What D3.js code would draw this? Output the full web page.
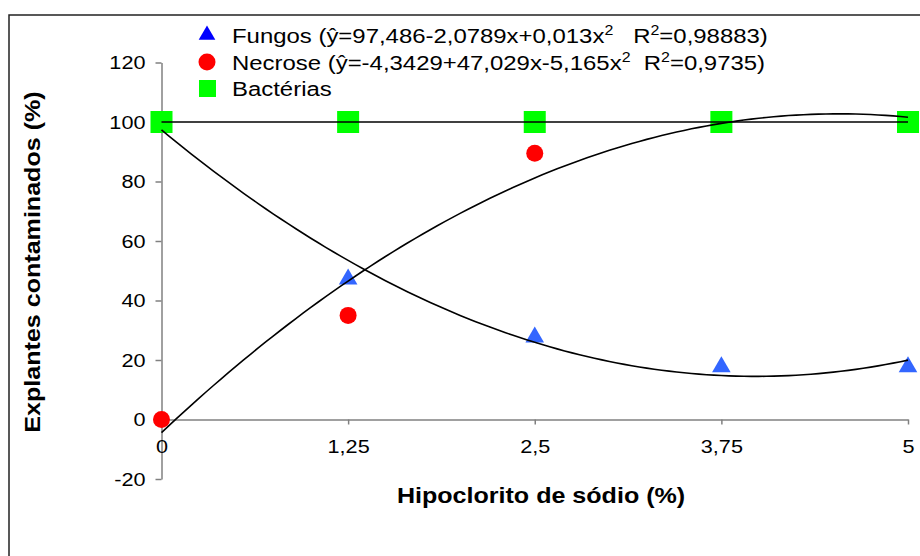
<!DOCTYPE html>
<html>
<head>
<meta charset="utf-8">
<style>
body { margin: 0; background: #fff; }
text { font-family: Arial, "Liberation Sans", sans-serif; fill: #000; }
.axis path, .axis line { stroke: #808080; stroke-width: 1.5px; }
.trend { fill: none; stroke: #000; stroke-width: 1.6px; }
</style>
</head>
<body>
<script src="https://cdn.jsdelivr.net/npm/d3@7"></script>
<script>

var doses = [0, 1.25, 2.5, 3.75, 5];
var xTicks = ["0", "1,25", "2,5", "3,75", "5"];
var fungos = [100, 47.5, 28, 18, 18];
var necrose = [0, 35, 89.5, 100, 100];
var bacterias = [100, 100, 100, 100, 100];
var yTicks = [-20, 0, 20, 40, 60, 80, 100, 120];

var width = 920, height = 556;
var stretch = 1.14;  // the original text is a bit wider than plain Arial

var svg = d3.select("body").append("svg")
    .attr("width", width)
    .attr("height", height);

// frame (only top and left edges show in the picture)
svg.append("rect")
    .attr("x", 9).attr("y", 15)
    .attr("width", 940).attr("height", 600)
    .attr("fill", "none")
    .attr("stroke", "#222")
    .attr("stroke-width", 1.5);

var x = d3.scaleLinear().domain([0, 5]).range([161.5, 908]);
var y = d3.scaleLinear().domain([-20, 120]).range([479, 62.5]);

// y axis
var yAxis = svg.append("g")
    .attr("class", "axis")
    .attr("transform", "translate(" + x(0) + ",0)")
    .call(d3.axisLeft(y).tickValues(yTicks).tickSize(6).tickPadding(3).tickSizeOuter(0)
        .tickFormat(function(d) { return String(d); }));
yAxis.selectAll("text")
    .attr("font-size", 19)
    .attr("x", -16 / stretch)
    .attr("transform", "scale(" + stretch + ",1)");

// x axis sits on y = 0
var xAxis = svg.append("g")
    .attr("class", "axis")
    .attr("transform", "translate(0," + y(0) + ")")
    .call(d3.axisBottom(x).tickValues(doses).tickSize(5).tickPadding(15).tickSizeOuter(0)
        .tickFormat(function(d, i) { return xTicks[i]; }));
xAxis.selectAll("text")
    .attr("font-size", 19)
    .attr("transform", "scale(" + stretch + ",1)");

// least squares quadratic (like the spreadsheet trendline)
function quadFit(xs, ys) {
  var s = [0, 0, 0, 0, 0], t = [0, 0, 0];
  xs.forEach(function(xv, i) {
    for (var k = 0; k < 5; k++) s[k] += Math.pow(xv, k);
    for (var k = 0; k < 3; k++) t[k] += ys[i] * Math.pow(xv, k);
  });
  var m = [[s[0], s[1], s[2], t[0]], [s[1], s[2], s[3], t[1]], [s[2], s[3], s[4], t[2]]];
  for (var i = 0; i < 3; i++) {
    for (var j = i + 1; j < 3; j++) {
      var f = m[j][i] / m[i][i];
      for (var k = i; k < 4; k++) m[j][k] -= f * m[i][k];
    }
  }
  var c = [0, 0, 0];
  for (var i = 2; i >= 0; i--) {
    var v = m[i][3];
    for (var k = i + 1; k < 3; k++) v -= m[i][k] * c[k];
    c[i] = v / m[i][i];
  }
  return function(xv) { return c[0] + c[1] * xv + c[2] * xv * xv; };
}

var line = d3.line()
    .x(function(d) { return x(d[0]); })
    .y(function(d) { return y(d[1]); });

var samples = d3.range(0, 5.0001, 0.05);

// markers
svg.append("g").selectAll("path")
    .data(doses)
    .enter().append("path")
    .attr("d", d3.symbol().type(d3.symbolTriangle).size(150))
    .attr("transform", function(d, i) { return "translate(" + x(d) + "," + (y(fungos[i]) + 1) + ")"; })
    .attr("fill", "#3366ff");

svg.append("g").selectAll("circle")
    .data(doses)
    .enter().append("circle")
    .attr("cx", function(d) { return x(d); })
    .attr("cy", function(d, i) { return y(necrose[i]); })
    .attr("r", 8.5)
    .attr("fill", "#ff0000");

svg.append("g").selectAll("rect")
    .data(doses)
    .enter().append("rect")
    .attr("x", function(d) { return x(d) - 11; })
    .attr("y", function(d, i) { return y(bacterias[i]) - 11; })
    .attr("width", 22).attr("height", 22)
    .attr("fill", "#00ff00");

// trend lines over the markers
[fungos, necrose].forEach(function(serie) {
  var f = quadFit(doses, serie);
  svg.append("path")
      .attr("class", "trend")
      .attr("d", line(samples.map(function(s) { return [s, f(s)]; })));
});

svg.append("path")
    .attr("class", "trend")
    .attr("stroke-width", 2)
    .attr("d", line(doses.map(function(d, i) { return [d, bacterias[i]]; })));

// legend
var legend = svg.append("g");

legend.append("path")
    .attr("d", d3.symbol().type(d3.symbolTriangle).size(120))
    .attr("transform", "translate(207,35)")
    .attr("fill", "#0000ff");
legend.append("circle").attr("cx", 207).attr("cy", 62).attr("r", 8.5).attr("fill", "#ff0000");
legend.append("rect").attr("x", 199).attr("y", 80).attr("width", 17).attr("height", 17).attr("fill", "#00ff00");

function legendLine(yy, parts) {
  var t = legend.append("g")
      .attr("transform", "translate(232," + yy + ") scale(" + stretch + ",1)")
    .append("text")
      .attr("font-size", 21)
      .style("white-space", "pre");
  parts.forEach(function(p) {
    var ts = t.append("tspan").text(p.t);
    if (p.sup) ts.attr("font-size", 14).attr("dy", -8);
    if (p.down) ts.attr("dy", 8);
  });
}

legendLine(43, [
  {t: "Fungos (ŷ=97,486-2,0789x+0,013x"}, {t: "2", sup: true},
  {t: "   R", down: true}, {t: "2", sup: true}, {t: "=0,98883)", down: true}
]);
legendLine(70, [
  {t: "Necrose (ŷ=-4,3429+47,029x-5,165x"}, {t: "2", sup: true},
  {t: "  R", down: true}, {t: "2", sup: true}, {t: "=0,9735)", down: true}
]);
legendLine(96, [{t: "Bactérias"}]);

// axis titles
svg.append("text")
    .attr("transform", "translate(40,262) rotate(-90) scale(" + stretch + ",1)")
    .attr("text-anchor", "middle")
    .attr("font-size", 22)
    .attr("font-weight", "bold")
    .text("Explantes contaminados (%)");

svg.append("text")
    .attr("transform", "translate(541,503) scale(" + stretch + ",1)")
    .attr("text-anchor", "middle")
    .attr("font-size", 22)
    .attr("font-weight", "bold")
    .text("Hipoclorito de sódio (%)");

</script>
</body>
</html>
